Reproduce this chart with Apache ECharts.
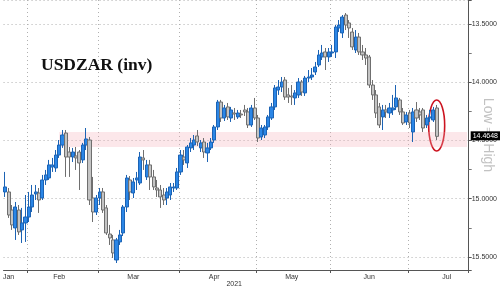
<!DOCTYPE html>
<html>
<head>
<meta charset="utf-8">
<script src="https://cdn.jsdelivr.net/npm/echarts@6/dist/echarts.min.js"></script>
<style>
  html, body { margin: 0; padding: 0; background: #fff; }
  #chart { width: 500px; height: 288px; }
</style>
</head>
<body>
<div id="chart"></div>
<script>
// ---- data (USDZAR daily candles, axis drawn inverted) ----
const opens = [14.942,14.942,15.097,15.251,15.097,15.268,15.208,15.157,15.071,14.959,
  14.951,14.994,14.839,14.822,14.728,14.736,14.625,14.539,14.436,14.599,
  14.642,14.633,14.599,14.667,14.539,14.496,14.994,15.114,14.994,14.942,
  15.079,15.303,15.354,15.526,15.371,15.294,15.071,14.839,14.951,14.839,
  14.865,14.650,14.813,14.710,14.813,14.908,14.925,14.968,14.994,14.968,
  14.908,14.908,14.770,14.642,14.693,14.564,14.539,14.461,14.564,14.513,
  14.607,14.564,14.496,14.384,14.170,14.307,14.212,14.307,14.264,14.298,
  14.273,14.238,14.255,14.367,14.221,14.307,14.470,14.453,14.384,14.307,
  14.212,14.067,14.041,13.981,14.109,14.118,14.135,14.109,13.998,14.092,
  13.964,13.955,13.912,13.852,13.783,13.740,13.783,13.749,13.740,13.534,
  13.577,13.423,13.491,13.569,13.723,13.612,13.740,13.766,13.783,14.024,
  14.109,14.212,14.298,14.238,14.264,14.238,14.212,14.152,14.255,14.341,
  14.264,14.427,14.238,14.255,14.238,14.367,14.307,14.324,14.221];
const closes = [14.899,15.140,15.225,15.071,15.285,15.208,15.157,15.071,14.968,14.942,
  15.011,14.839,14.796,14.710,14.710,14.625,14.539,14.453,14.642,14.642,
  14.599,14.650,14.693,14.539,14.487,15.011,15.114,14.994,14.942,15.097,
  15.294,15.337,15.466,15.354,15.311,15.071,14.822,14.942,14.856,14.822,
  14.642,14.667,14.710,14.813,14.899,14.925,14.985,15.011,14.942,14.899,
  14.899,14.770,14.625,14.667,14.556,14.521,14.496,14.513,14.521,14.599,
  14.564,14.513,14.384,14.170,14.307,14.221,14.298,14.238,14.273,14.264,
  14.281,14.255,14.367,14.221,14.307,14.479,14.393,14.384,14.298,14.212,
  14.049,14.041,13.998,14.127,14.127,14.127,14.092,13.998,14.084,13.964,
  13.955,13.938,13.869,13.766,13.749,13.783,13.740,13.740,13.526,13.509,
  13.440,13.509,13.534,13.697,13.612,13.740,13.766,13.792,14.024,14.109,
  14.264,14.367,14.238,14.255,14.221,14.221,14.135,14.255,14.350,14.281,
  14.350,14.255,14.307,14.281,14.393,14.307,14.298,14.238,14.4648];
const lows = [14.770,14.908,15.054,15.028,15.054,15.079,14.968,14.942,14.882,14.882,
  14.908,14.796,14.753,14.667,14.650,14.582,14.496,14.410,14.410,14.556,
  14.564,14.556,14.582,14.521,14.393,14.470,14.813,14.968,14.908,14.908,
  15.054,15.225,15.311,15.337,15.268,15.054,14.796,14.805,14.822,14.770,
  14.599,14.582,14.667,14.667,14.753,14.839,14.882,14.908,14.908,14.865,
  14.865,14.736,14.582,14.582,14.539,14.479,14.453,14.410,14.496,14.479,
  14.521,14.479,14.367,14.152,14.152,14.195,14.178,14.212,14.221,14.238,
  14.238,14.195,14.221,14.195,14.135,14.281,14.367,14.367,14.281,14.178,
  14.024,13.981,13.955,13.955,14.049,14.024,14.067,13.964,13.981,13.946,
  13.895,13.878,13.826,13.723,13.680,13.706,13.706,13.680,13.509,13.466,
  13.423,13.406,13.466,13.534,13.552,13.577,13.680,13.706,13.766,13.981,
  14.067,14.178,14.195,14.195,14.178,14.109,14.024,14.135,14.221,14.255,
  14.238,14.221,14.170,14.221,14.221,14.281,14.238,14.212,14.195];
const highs = [14.985,15.165,15.268,15.354,15.311,15.380,15.371,15.200,15.114,15.011,
  15.122,15.011,14.882,14.839,14.770,14.770,14.650,14.564,14.813,14.813,
  14.685,14.753,14.925,14.693,14.582,15.054,15.200,15.140,15.054,15.122,
  15.311,15.397,15.509,15.552,15.397,15.320,15.114,15.011,14.994,14.925,
  14.882,14.753,14.839,14.925,14.925,14.985,15.079,15.054,15.054,15.011,
  14.942,14.925,14.796,14.710,14.736,14.599,14.582,14.547,14.599,14.650,
  14.685,14.582,14.521,14.410,14.341,14.333,14.324,14.341,14.324,14.315,
  14.307,14.290,14.393,14.384,14.324,14.513,14.496,14.479,14.410,14.324,
  14.238,14.109,14.084,14.152,14.178,14.195,14.195,14.135,14.118,14.118,
  13.998,13.981,13.938,13.869,13.809,13.895,13.826,13.783,13.792,13.569,
  13.620,13.552,13.620,13.723,13.749,13.766,13.809,13.852,14.049,14.152,
  14.307,14.393,14.410,14.307,14.307,14.281,14.238,14.281,14.367,14.367,
  14.393,14.513,14.341,14.324,14.427,14.393,14.341,14.341,14.496];

const slotCount = 138;                       // trading-day slots on the x axis
const monthNames = ['Jan','Feb','Mar','Apr','May','Jun','Jul'];
const monthLabelIdx = [1, 16, 38, 62, 85, 108, 131];
const monthStartIdx = [7, 28, 52, 75, 97, 120];
const yearLabel = '2021';
const supportBand = [14.427, 14.556];
const bandStartIdx = 16;
const yMin = 13.294, yMax = 15.612;

(function () {
const categories = Array.from({length: slotCount}, (_, i) => String(i));
const candles = opens.map((o, i) => [o, closes[i], lows[i], highs[i]]);
const lastIdx = candles.length - 1;
const lastClose = closes[lastIdx];

const chart = echarts.init(document.getElementById('chart'), null, {renderer: 'canvas'});
const dotted = {color: '#b0b0b0', type: [1, 3], width: 1};

chart.setOption({
  animation: false,
  backgroundColor: '#fff',
  title: {
    text: 'USDZAR (inv)', left: 36, top: 51,
    textStyle: {fontFamily: 'Liberation Serif', fontWeight: 'bold', fontSize: 17.5, color: '#111'}
  },
  grid: {left: 0, right: 30, top: 0, bottom: 18, containLabel: false},
  xAxis: {
    type: 'category', data: categories, boundaryGap: true,
    axisLine: {lineStyle: {color: '#555', width: 1}},
    axisTick: {show: true, length: 3, interval: (i) => monthStartIdx.includes(i), lineStyle: {color: '#555'}},
    axisLabel: {
      interval: (i) => monthLabelIdx.includes(i),
      formatter: (v) => monthNames[monthLabelIdx.indexOf(Number(v))] || '',
      fontSize: 7, color: '#333', margin: 4, fontFamily: 'Liberation Sans'
    },
    splitLine: {show: true, interval: (i) => monthStartIdx.includes(i), lineStyle: dotted}
  },
  yAxis: {
    type: 'value', position: 'right', inverse: true, min: yMin, max: yMax, scale: true,
    axisLine: {show: true, lineStyle: {color: '#555', width: 1}},
    axisTick: {show: true, length: 3, lineStyle: {color: '#555'}},
    minorTick: {show: true, splitNumber: 2, length: 3, lineStyle: {color: '#777'}},
    axisLabel: {
      formatter: (v) => v.toFixed(4), fontSize: 7, color: '#333', margin: 3,
      fontFamily: 'Liberation Sans Narrow, Liberation Sans',
      showMinLabel: false, showMaxLabel: false
    },
    splitLine: {show: true, lineStyle: dotted}
  },
  series: [{
    type: 'candlestick',
    data: candles,
    barWidth: 3.6,
    itemStyle: {
      color: '#c4c4c4', borderColor: '#6f6f6f',
      color0: '#2b86e6', borderColor0: '#1c63b4', borderWidth: 1
    },
    emphasis: {disabled: true},
    markArea: {
      silent: true,
      itemStyle: {color: 'rgba(246, 170, 178, 0.28)'},
      data: [[{xAxis: String(bandStartIdx), yAxis: supportBand[0]}, {xAxis: String(slotCount - 1), yAxis: supportBand[1]}]]
    },
    markLine: {
      silent: true, symbol: ['none', 'none'],
      lineStyle: {color: 'rgba(0,0,0,0)', width: 0},
      label: {
        show: true, position: 'end', distance: 2,
        formatter: () => lastClose.toFixed(4),
        backgroundColor: '#000', color: '#fff', fontSize: 7, padding: [1, 2, 1, 2],
        fontFamily: 'Liberation Sans'
      },
      data: [{yAxis: lastClose}]
    }
  }]
});

// annotations placed via the chart's own scales
const pTop = chart.convertToPixel({xAxisIndex: 0, yAxisIndex: 0}, [String(lastIdx), lows[lastIdx]]);
const pBot = chart.convertToPixel({xAxisIndex: 0, yAxisIndex: 0}, [String(lastIdx), highs[lastIdx]]);
const yrX = chart.convertToPixel({xAxisIndex: 0}, String(monthLabelIdx[3]));
chart.setOption({
  graphic: [
    {
      type: 'ellipse', silent: true,
      shape: {cx: pTop[0], cy: (pTop[1] + pBot[1]) / 2 + 3, rx: 8, ry: (pBot[1] - pTop[1]) / 2 + 8},
      style: {fill: 'none', stroke: '#cc1420', lineWidth: 1.6}
    },
    {
      type: 'text', silent: true, x: yrX + 20, y: 281,
      style: {text: yearLabel, font: '7px Liberation Sans', fill: '#333', textAlign: 'center'}
    },
    {
      type: 'text', silent: true, x: 488, y: 135, rotation: -Math.PI / 2,
      style: {text: 'Low \u21D2 High', font: '14px Liberation Sans', fill: '#c2c2c2', textAlign: 'center', textVerticalAlign: 'middle'}
    }
  ]
});
})();
</script>
</body>
</html>
